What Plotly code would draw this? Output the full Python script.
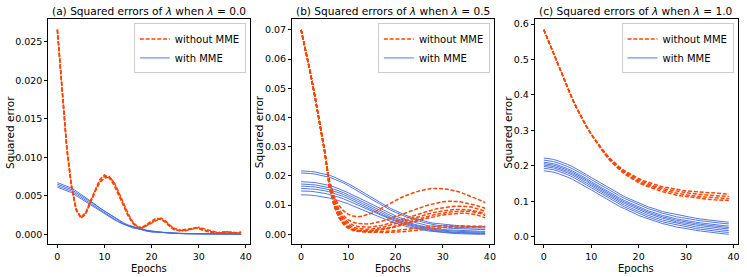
import plotly.graph_objects as go

epochs = list(range(40))
x_ticks = [0, 10, 20, 30, 40]

# ---------- panel (a): lambda = 0.0 ----------
a_without_mme = [
    [0.0266, 0.0185, 0.0112, 0.0062, 0.0032, 0.0021, 0.0027, 0.0041, 0.0056, 0.0068,
     0.0075, 0.0075, 0.0067, 0.0053, 0.0038, 0.0025, 0.0015, 0.0009, 0.0008, 0.0012,
     0.0016, 0.0019, 0.0020, 0.0016, 0.0010, 0.0006, 0.0004, 0.0005, 0.0006, 0.0008,
     0.0008, 0.0006, 0.0004, 0.0002, 0.0002, 0.0002, 0.0003, 0.0002, 0.0002, 0.0002],
    [0.0266, 0.0186, 0.0114, 0.0063, 0.0033, 0.0022, 0.0028, 0.0043, 0.0058, 0.0071,
     0.0077, 0.0073, 0.0064, 0.0051, 0.0036, 0.0024, 0.0014, 0.0009, 0.0009, 0.0013,
     0.0017, 0.0021, 0.0019, 0.0015, 0.0009, 0.0005, 0.0005, 0.0006, 0.0007, 0.0008,
     0.0007, 0.0005, 0.0003, 0.0003, 0.0002, 0.0003, 0.0002, 0.0003, 0.0002, 0.0003],
    [0.0265, 0.0184, 0.0111, 0.0061, 0.0031, 0.0021, 0.0026, 0.0040, 0.0055, 0.0067,
     0.0073, 0.0074, 0.0068, 0.0055, 0.0040, 0.0027, 0.0016, 0.0010, 0.0008, 0.0011,
     0.0015, 0.0018, 0.0021, 0.0017, 0.0011, 0.0007, 0.0005, 0.0004, 0.0006, 0.0007,
     0.0009, 0.0007, 0.0005, 0.0003, 0.0002, 0.0002, 0.0003, 0.0002, 0.0002, 0.0001],
]
a_with_mme = [
    [0.0067, 0.0065, 0.0063, 0.0060, 0.0056, 0.0052, 0.0048, 0.0043, 0.0039, 0.0034,
     0.0030, 0.0026, 0.0022, 0.0018, 0.0015, 0.0012, 0.0010, 0.0008, 0.0006, 0.0005,
     0.0004, 0.00032, 0.00026, 0.0002, 0.00016, 0.00013, 0.0001, 0.00008, 0.00007, 0.00006,
     0.00005, 0.00004, 0.00004, 0.00003, 0.00003, 0.00003, 0.00002, 0.00002, 0.00002, 0.00002],
    [0.0065, 0.0063, 0.0061, 0.0058, 0.0054, 0.0050, 0.0046, 0.0042, 0.0037, 0.0033,
     0.0029, 0.0025, 0.0021, 0.0017, 0.0014, 0.0011, 0.0009, 0.0007, 0.0006, 0.0005,
     0.0004, 0.0003, 0.00025, 0.0002, 0.00015, 0.00012, 0.0001, 0.00008, 0.00006, 0.00005,
     0.00004, 0.00004, 0.00003, 0.00003, 0.00002, 0.00002, 0.00002, 0.00002, 0.00001, 0.00001],
    [0.0063, 0.0061, 0.0059, 0.0056, 0.0052, 0.0048, 0.0044, 0.0040, 0.0035, 0.0031,
     0.0027, 0.0023, 0.0020, 0.0016, 0.0013, 0.0011, 0.0009, 0.0007, 0.0005, 0.0004,
     0.0003, 0.00025, 0.0002, 0.00015, 0.00012, 0.0001, 0.00008, 0.00006, 0.00005, 0.00004,
     0.00003, 0.00003, 0.00002, 0.00002, 0.00002, 0.00001, 0.00001, 0.00001, 0.00001, 0.00001],
    [0.0061, 0.0059, 0.0057, 0.0054, 0.0050, 0.0046, 0.0042, 0.0038, 0.0034, 0.0030,
     0.0026, 0.0022, 0.0019, 0.0016, 0.0013, 0.0010, 0.0008, 0.0007, 0.0005, 0.0004,
     0.0003, 0.00025, 0.0002, 0.00015, 0.00012, 0.0001, 0.00008, 0.00006, 0.00005, 0.00004,
     0.00003, 0.00003, 0.00002, 0.00002, 0.00002, 0.00001, 0.00001, 0.00001, 0.00001, 0.00001],
]

# ---------- panel (b): lambda = 0.5 ----------
b_without_mme = [
    [0.0700, 0.0627, 0.0550, 0.0465, 0.0375, 0.0283, 0.0185, 0.0130, 0.0098, 0.0080,
     0.0068, 0.0062, 0.0060, 0.0062, 0.0066, 0.0072, 0.0080, 0.0089, 0.0098, 0.0107,
     0.0116, 0.0124, 0.0131, 0.0138, 0.0143, 0.0148, 0.0152, 0.0155, 0.0157, 0.0157,
     0.0156, 0.0154, 0.0151, 0.0147, 0.0142, 0.0136, 0.0130, 0.0123, 0.0116, 0.0108],
    [0.0700, 0.0627, 0.0550, 0.0465, 0.0375, 0.0283, 0.0178, 0.0122, 0.0086, 0.0063,
     0.0049, 0.0041, 0.0037, 0.0035, 0.0035, 0.0037, 0.0040, 0.0044, 0.0049, 0.0055,
     0.0061, 0.0067, 0.0073, 0.0079, 0.0085, 0.0090, 0.0095, 0.0100, 0.0104, 0.0108,
     0.0111, 0.0113, 0.0113, 0.0112, 0.0110, 0.0107, 0.0103, 0.0099, 0.0094, 0.0089],
    [0.0700, 0.0627, 0.0550, 0.0465, 0.0375, 0.0283, 0.0172, 0.0115, 0.0078, 0.0055,
     0.0040, 0.0031, 0.0026, 0.0024, 0.0024, 0.0025, 0.0027, 0.0030, 0.0034, 0.0039,
     0.0044, 0.0050, 0.0055, 0.0061, 0.0066, 0.0071, 0.0076, 0.0080, 0.0084, 0.0088,
     0.0091, 0.0093, 0.0095, 0.0096, 0.0096, 0.0095, 0.0093, 0.0089, 0.0084, 0.0078],
    [0.0700, 0.0627, 0.0550, 0.0465, 0.0375, 0.0283, 0.0168, 0.0110, 0.0072, 0.0048,
     0.0033, 0.0024, 0.0019, 0.0017, 0.0017, 0.0018, 0.0020, 0.0023, 0.0027, 0.0031,
     0.0036, 0.0041, 0.0046, 0.0051, 0.0056, 0.0061, 0.0066, 0.0070, 0.0074, 0.0077,
     0.0080, 0.0082, 0.0084, 0.0085, 0.0085, 0.0084, 0.0082, 0.0079, 0.0075, 0.0070],
    [0.0700, 0.0627, 0.0550, 0.0465, 0.0375, 0.0283, 0.0165, 0.0106, 0.0068, 0.0043,
     0.0028, 0.0019, 0.0014, 0.0012, 0.0012, 0.0013, 0.0015, 0.0017, 0.0020, 0.0024,
     0.0028, 0.0033, 0.0038, 0.0043, 0.0048, 0.0053, 0.0057, 0.0062, 0.0066, 0.0069,
     0.0072, 0.0075, 0.0077, 0.0078, 0.0079, 0.0079, 0.0078, 0.0075, 0.0071, 0.0064],
    [0.0700, 0.0627, 0.0550, 0.0465, 0.0375, 0.0283, 0.0162, 0.0102, 0.0063, 0.0039,
     0.0024, 0.0016, 0.0012, 0.0010, 0.0010, 0.0011, 0.0013, 0.0015, 0.0018, 0.0021,
     0.0025, 0.0029, 0.0034, 0.0038, 0.0043, 0.0047, 0.0052, 0.0056, 0.0060, 0.0063,
     0.0066, 0.0068, 0.0070, 0.0071, 0.0072, 0.0072, 0.0070, 0.0067, 0.0062, 0.0056],
    [0.0700, 0.0627, 0.0550, 0.0465, 0.0375, 0.0283, 0.0160, 0.0098, 0.0060, 0.0036,
     0.0022, 0.0015, 0.0011, 0.0009, 0.0008, 0.0008, 0.0008, 0.0009, 0.0010, 0.0011,
     0.0013, 0.0014, 0.0016, 0.0018, 0.0020, 0.0022, 0.0024, 0.0025, 0.0027, 0.0028,
     0.0029, 0.0029, 0.0029, 0.0029, 0.0028, 0.0028, 0.0028, 0.0027, 0.0027, 0.0027],
    [0.0700, 0.0627, 0.0550, 0.0465, 0.0375, 0.0283, 0.0158, 0.0095, 0.0057, 0.0033,
     0.0020, 0.0013, 0.0010, 0.0008, 0.0007, 0.0007, 0.0006, 0.0006, 0.0006, 0.0007,
     0.0007, 0.0008, 0.0009, 0.0011, 0.0012, 0.0014, 0.0016, 0.0018, 0.0020, 0.0021,
     0.0023, 0.0024, 0.0024, 0.0025, 0.0025, 0.0025, 0.0025, 0.0025, 0.0025, 0.0025],
]
b_with_mme = [
    [0.0217, 0.0217, 0.0215, 0.0213, 0.0210, 0.0207, 0.0202, 0.0196, 0.0189, 0.0182,
     0.0173, 0.0164, 0.0154, 0.0144, 0.0135, 0.0125, 0.0116, 0.0106, 0.0097, 0.0088,
     0.0080, 0.0073, 0.0066, 0.0060, 0.0055, 0.0050, 0.0045, 0.0041, 0.0038, 0.0036,
     0.0034, 0.0032, 0.0030, 0.0029, 0.0028, 0.0027, 0.0027, 0.0026, 0.0026, 0.0026],
    [0.0210, 0.0210, 0.0208, 0.0206, 0.0203, 0.0200, 0.0195, 0.0189, 0.0183, 0.0175,
     0.0167, 0.0157, 0.0148, 0.0138, 0.0129, 0.0119, 0.0110, 0.0100, 0.0091, 0.0082,
     0.0075, 0.0067, 0.0061, 0.0055, 0.0049, 0.0045, 0.0040, 0.0036, 0.0033, 0.0030,
     0.0029, 0.0027, 0.0025, 0.0024, 0.0023, 0.0022, 0.0022, 0.0021, 0.0021, 0.0021],
    [0.0180, 0.0180, 0.0178, 0.0177, 0.0174, 0.0171, 0.0167, 0.0162, 0.0156, 0.0150,
     0.0142, 0.0134, 0.0126, 0.0118, 0.0110, 0.0101, 0.0093, 0.0085, 0.0077, 0.0069,
     0.0063, 0.0056, 0.0050, 0.0046, 0.0041, 0.0037, 0.0032, 0.0029, 0.0027, 0.0024,
     0.0023, 0.0021, 0.0020, 0.0019, 0.0018, 0.0017, 0.0017, 0.0016, 0.0016, 0.0016],
    [0.0172, 0.0172, 0.0170, 0.0169, 0.0166, 0.0163, 0.0159, 0.0154, 0.0149, 0.0142,
     0.0135, 0.0127, 0.0119, 0.0110, 0.0102, 0.0094, 0.0086, 0.0078, 0.0070, 0.0063,
     0.0056, 0.0050, 0.0044, 0.0039, 0.0034, 0.0030, 0.0026, 0.0023, 0.0021, 0.0018,
     0.0016, 0.0015, 0.0014, 0.0013, 0.0012, 0.0011, 0.0011, 0.0010, 0.0010, 0.0010],
    [0.0165, 0.0165, 0.0163, 0.0162, 0.0160, 0.0156, 0.0152, 0.0148, 0.0142, 0.0136,
     0.0129, 0.0121, 0.0113, 0.0105, 0.0097, 0.0089, 0.0081, 0.0073, 0.0066, 0.0058,
     0.0052, 0.0046, 0.0040, 0.0035, 0.0031, 0.0027, 0.0023, 0.0020, 0.0017, 0.0015,
     0.0013, 0.0012, 0.0011, 0.0010, 0.0009, 0.0008, 0.0008, 0.0007, 0.0007, 0.0007],
    [0.0157, 0.0157, 0.0155, 0.0154, 0.0152, 0.0149, 0.0145, 0.0140, 0.0135, 0.0129,
     0.0122, 0.0114, 0.0107, 0.0099, 0.0091, 0.0084, 0.0076, 0.0068, 0.0061, 0.0054,
     0.0048, 0.0041, 0.0036, 0.0032, 0.0027, 0.0023, 0.0019, 0.0016, 0.0014, 0.0012,
     0.0010, 0.0009, 0.0007, 0.0006, 0.0006, 0.0005, 0.0005, 0.0004, 0.0004, 0.0004],
    [0.0148, 0.0148, 0.0147, 0.0145, 0.0143, 0.0140, 0.0136, 0.0132, 0.0127, 0.0121,
     0.0114, 0.0107, 0.0100, 0.0093, 0.0085, 0.0078, 0.0071, 0.0063, 0.0056, 0.0049,
     0.0044, 0.0038, 0.0033, 0.0028, 0.0024, 0.0020, 0.0017, 0.0014, 0.0011, 0.0009,
     0.0008, 0.0006, 0.0005, 0.0004, 0.0004, 0.0003, 0.0003, 0.0002, 0.0002, 0.0002],
    [0.0135, 0.0135, 0.0134, 0.0132, 0.0130, 0.0128, 0.0124, 0.0120, 0.0115, 0.0110,
     0.0104, 0.0097, 0.0090, 0.0084, 0.0077, 0.0070, 0.0063, 0.0057, 0.0050, 0.0044,
     0.0038, 0.0033, 0.0028, 0.0024, 0.0020, 0.0017, 0.0014, 0.0011, 0.0009, 0.0007,
     0.0005, 0.0004, 0.0003, 0.0002, 0.0001, 0.0001, 0.0001, 0.0000, 0.0000, 0.0000],
]

# ---------- panel (c): lambda = 1.0 ----------
c_without_mme = [
    [0.584, 0.552, 0.518, 0.484, 0.451, 0.419, 0.389, 0.361, 0.335, 0.311,
     0.289, 0.270, 0.252, 0.235, 0.220, 0.207, 0.196, 0.186, 0.178, 0.170,
     0.164, 0.158, 0.153, 0.149, 0.145, 0.141, 0.138, 0.136, 0.133, 0.131,
     0.129, 0.128, 0.126, 0.125, 0.124, 0.123, 0.122, 0.122, 0.121, 0.120],
    [0.584, 0.552, 0.518, 0.484, 0.451, 0.419, 0.389, 0.361, 0.335, 0.311,
     0.289, 0.269, 0.251, 0.234, 0.218, 0.205, 0.193, 0.184, 0.175, 0.167,
     0.160, 0.154, 0.149, 0.144, 0.140, 0.136, 0.133, 0.131, 0.128, 0.126,
     0.124, 0.122, 0.120, 0.119, 0.118, 0.117, 0.116, 0.115, 0.114, 0.113],
    [0.584, 0.552, 0.518, 0.484, 0.451, 0.419, 0.389, 0.361, 0.335, 0.311,
     0.289, 0.268, 0.249, 0.232, 0.216, 0.203, 0.191, 0.180, 0.171, 0.163,
     0.156, 0.150, 0.145, 0.140, 0.136, 0.132, 0.128, 0.125, 0.122, 0.120,
     0.118, 0.116, 0.114, 0.113, 0.112, 0.111, 0.110, 0.109, 0.108, 0.107],
    [0.584, 0.552, 0.518, 0.484, 0.451, 0.419, 0.389, 0.361, 0.335, 0.311,
     0.289, 0.268, 0.248, 0.230, 0.214, 0.200, 0.188, 0.177, 0.168, 0.159,
     0.152, 0.146, 0.141, 0.136, 0.131, 0.127, 0.124, 0.120, 0.117, 0.115,
     0.113, 0.111, 0.109, 0.107, 0.106, 0.105, 0.104, 0.104, 0.103, 0.102],
]
c_with_mme = [
    [0.222, 0.221, 0.218, 0.214, 0.210, 0.204, 0.198, 0.191, 0.183, 0.175,
     0.167, 0.159, 0.151, 0.143, 0.135, 0.128, 0.120, 0.113, 0.107, 0.101,
     0.095, 0.090, 0.084, 0.080, 0.075, 0.071, 0.068, 0.065, 0.062, 0.059,
     0.056, 0.054, 0.052, 0.050, 0.048, 0.046, 0.045, 0.043, 0.042, 0.041],
    [0.216, 0.215, 0.212, 0.208, 0.204, 0.198, 0.192, 0.185, 0.177, 0.170,
     0.161, 0.153, 0.145, 0.137, 0.130, 0.122, 0.115, 0.108, 0.102, 0.095,
     0.090, 0.084, 0.079, 0.075, 0.070, 0.066, 0.063, 0.059, 0.056, 0.054,
     0.051, 0.049, 0.047, 0.045, 0.043, 0.041, 0.040, 0.038, 0.037, 0.036],
    [0.210, 0.209, 0.206, 0.202, 0.198, 0.192, 0.186, 0.179, 0.171, 0.164,
     0.155, 0.147, 0.139, 0.131, 0.124, 0.116, 0.109, 0.102, 0.096, 0.089,
     0.084, 0.078, 0.073, 0.069, 0.064, 0.060, 0.057, 0.053, 0.050, 0.048,
     0.045, 0.043, 0.041, 0.039, 0.037, 0.035, 0.034, 0.032, 0.031, 0.030],
    [0.206, 0.205, 0.202, 0.198, 0.194, 0.188, 0.182, 0.175, 0.167, 0.160,
     0.151, 0.143, 0.135, 0.127, 0.120, 0.112, 0.105, 0.098, 0.092, 0.085,
     0.080, 0.074, 0.069, 0.065, 0.060, 0.056, 0.053, 0.049, 0.046, 0.044,
     0.041, 0.039, 0.037, 0.035, 0.033, 0.031, 0.030, 0.028, 0.027, 0.026],
    [0.202, 0.201, 0.198, 0.194, 0.190, 0.184, 0.178, 0.171, 0.163, 0.156,
     0.147, 0.139, 0.131, 0.123, 0.116, 0.108, 0.101, 0.094, 0.088, 0.081,
     0.076, 0.070, 0.065, 0.061, 0.056, 0.052, 0.049, 0.045, 0.042, 0.040,
     0.037, 0.035, 0.033, 0.031, 0.029, 0.027, 0.026, 0.024, 0.023, 0.022],
    [0.198, 0.197, 0.194, 0.190, 0.186, 0.180, 0.174, 0.167, 0.159, 0.151,
     0.143, 0.135, 0.127, 0.119, 0.111, 0.104, 0.096, 0.089, 0.083, 0.077,
     0.071, 0.066, 0.060, 0.056, 0.051, 0.047, 0.044, 0.041, 0.038, 0.035,
     0.032, 0.030, 0.028, 0.026, 0.024, 0.022, 0.021, 0.019, 0.018, 0.017],
    [0.193, 0.192, 0.189, 0.185, 0.181, 0.175, 0.169, 0.162, 0.154, 0.146,
     0.138, 0.130, 0.122, 0.114, 0.106, 0.099, 0.091, 0.084, 0.078, 0.072,
     0.066, 0.061, 0.055, 0.051, 0.046, 0.042, 0.039, 0.036, 0.033, 0.030,
     0.027, 0.025, 0.023, 0.021, 0.019, 0.017, 0.016, 0.014, 0.013, 0.012],
    [0.186, 0.185, 0.182, 0.178, 0.174, 0.168, 0.162, 0.155, 0.148, 0.140,
     0.132, 0.124, 0.116, 0.108, 0.100, 0.093, 0.085, 0.079, 0.072, 0.066,
     0.060, 0.055, 0.050, 0.045, 0.041, 0.037, 0.034, 0.030, 0.027, 0.025,
     0.022, 0.020, 0.018, 0.016, 0.014, 0.012, 0.011, 0.009, 0.008, 0.007],
]

panel_titles = [
    "(a) Squared errors of <i>λ</i> when <i>λ</i> = 0.0",
    "(b) Squared errors of <i>λ</i> when <i>λ</i> = 0.5",
    "(c) Squared errors of <i>λ</i> when <i>λ</i> = 1.0",
]
y_ticks = [
    [0.000, 0.005, 0.010, 0.015, 0.020, 0.025],
    [0.00, 0.01, 0.02, 0.03, 0.04, 0.05, 0.06, 0.07],
    [0.0, 0.1, 0.2, 0.3, 0.4, 0.5, 0.6],
]
y_formats = [".3f", ".2f", ".1f"]
series_names = ["without MME", "with MME"]

# ---------- styling / layout ----------
W, H = 747, 277
RED = "#FF4500"
BLUE = "#4169E1"
FONT = "DejaVu Sans"
x_px = [(48.3, 251.0), (292.7, 495.7), (536.0, 740.0)]
y_px = (18.5, 244.3)
y_ranges = [[-0.00133, 0.0279], [-0.0035, 0.0736], [-0.0219, 0.6129]]
x_range = [-1.95, 40.95]

panels = [
    (a_without_mme, a_with_mme),
    (b_without_mme, b_with_mme),
    (c_without_mme, c_with_mme),
]

fig = go.Figure()
ydom = [1 - y_px[1] / H, 1 - y_px[0] / H]

for i, (red_runs, blue_runs) in enumerate(panels):
    n = "" if i == 0 else str(i + 1)
    xa, ya = "x" + n, "y" + n
    leg = "legend" + n
    for k, run in enumerate(blue_runs):
        fig.add_trace(go.Scatter(
            x=epochs, y=run, xaxis=xa, yaxis=ya, mode="lines",
            name=series_names[1], legend=leg, showlegend=(k == 0),
            legendrank=2, opacity=0.9,
            line=dict(color=BLUE, width=1)))
    for k, run in enumerate(red_runs):
        fig.add_trace(go.Scatter(
            x=epochs, y=run, xaxis=xa, yaxis=ya, mode="lines",
            name=series_names[0], legend=leg, showlegend=(k == 0),
            legendrank=1,
            line=dict(color=RED, width=1.5, dash="4px,1.8px")))

    x0, x1 = x_px[i]
    axis_common = dict(showline=True, mirror=True, linecolor="black", linewidth=0.8,
                       ticks="outside", ticklen=3, tickwidth=0.8, tickcolor="black",
                       showgrid=False, zeroline=False,
                       tickfont=dict(family=FONT, size=9.5, color="black"))
    fig.update_layout({
        "xaxis" + n: dict(domain=[x0 / W, x1 / W], anchor=ya, range=x_range,
                          tickvals=x_ticks, **axis_common),
        "yaxis" + n: dict(domain=ydom, anchor=xa, range=y_ranges[i],
                          tickvals=y_ticks[i], tickformat=y_formats[i], **axis_common),
        leg: dict(x=(x1 - 4.5) / W, y=1 - 22.5 / H, xanchor="right", yanchor="top",
                  xref="paper", yref="paper",
                  bgcolor="rgba(255,255,255,0.8)", bordercolor="#cccccc", borderwidth=1,
                  font=dict(family=FONT, size=10, color="black"),
                  itemwidth=30, traceorder="normal",
                  tracegroupgap=0),
    })
    cx = (x0 + x1) / 2 / W
    fig.add_annotation(text=panel_titles[i], x=cx, y=1 - 10.5 / H, xref="paper", yref="paper",
                       showarrow=False, xanchor="center", yanchor="middle",
                       font=dict(family=FONT, size=10.6, color="black"))
    fig.add_annotation(text="Epochs", x=cx, y=1 - 268.0 / H, xref="paper", yref="paper",
                       showarrow=False, xanchor="center", yanchor="middle",
                       font=dict(family=FONT, size=10, color="black"))
    ylab_x = [10.0, 260.0, 509.3][i]
    fig.add_annotation(text="Squared error", x=ylab_x / W, y=1 - 131.4 / H,
                       xref="paper", yref="paper", textangle=-90,
                       showarrow=False, xanchor="center", yanchor="middle",
                       font=dict(family=FONT, size=10.5, color="black"))

fig.update_layout(
    width=W, height=H,
    margin=dict(l=0, r=0, t=0, b=0),
    paper_bgcolor="white", plot_bgcolor="white",
    font=dict(family=FONT, size=10, color="black"),
)

fig.write_html("out.html",
               config={"displayModeBar": False},
               post_script="document.body.style.margin='0px';document.body.style.overflow='hidden';")
